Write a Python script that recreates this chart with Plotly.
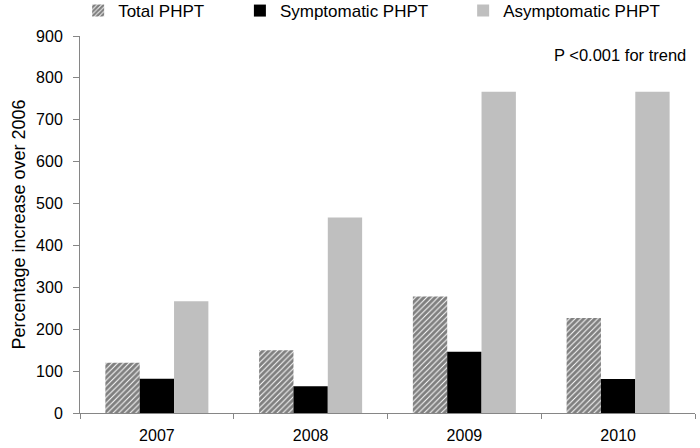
import plotly.graph_objects as go

years = ["2007", "2008", "2009", "2010"]
total = [120, 150, 278, 227]
symptomatic = [82, 64, 146, 81]
asymptomatic = [267, 467, 767, 767]

font = "Liberation Sans, Arial, sans-serif"

fig = go.Figure()
fig.add_trace(go.Bar(
    x=years, y=total, name="Total PHPT", legend="legend",
    marker=dict(color="white", line=dict(width=0),
                pattern=dict(shape="/", fgcolor="black", bgcolor="white", size=4, solidity=0.75)),
))
fig.add_trace(go.Bar(
    x=years, y=symptomatic, name="Symptomatic PHPT", legend="legend2",
    marker=dict(color="black", line=dict(width=0)),
))
fig.add_trace(go.Bar(
    x=years, y=asymptomatic, name="Asymptomatic PHPT", legend="legend3",
    marker=dict(color="#bfbfbf", line=dict(width=0)),
))

leg = dict(orientation="h", yanchor="middle", xanchor="left", yref="container", y=0.9754,
           font=dict(size=17), bgcolor="rgba(0,0,0,0)", itemwidth=30)

fig.update_layout(
    width=700, height=448,
    margin=dict(l=80, r=5, t=36, b=35),
    paper_bgcolor="white", plot_bgcolor="white",
    font=dict(family=font, size=16, color="black"),
    barmode="group", bargap=0.33, bargroupgap=0,
    legend=dict(leg, x=-0.003),
    legend2=dict(leg, x=0.26),
    legend3=dict(leg, x=0.623),
    showlegend=True,
    annotations=[dict(text="P <0.001 for trend", x=0.9886, y=0.95, xref="paper", yref="paper",
                      xanchor="right", yanchor="middle", showarrow=False, font=dict(size=16.5))],
)
fig.update_xaxes(showline=True, linecolor="#868686", linewidth=1, ticks="outside",
                 tickson="boundaries", ticklen=5, tickcolor="#868686", showgrid=False,
                 tickfont=dict(size=16), ticklabelstandoff=8, automargin=False)
fig.update_yaxes(range=[0, 900], dtick=100, showline=True, linecolor="#868686", linewidth=1,
                 ticks="outside", ticklen=6, tickcolor="#868686", showgrid=False, zeroline=False,
                 title=dict(text="Percentage increase over 2006", font=dict(size=18), standoff=5),
                 tickfont=dict(size=16), ticklabelstandoff=7, automargin=False)

fig.write_html("out.html", config={"displayModeBar": False},
               post_script="document.body.style.margin='0';")
